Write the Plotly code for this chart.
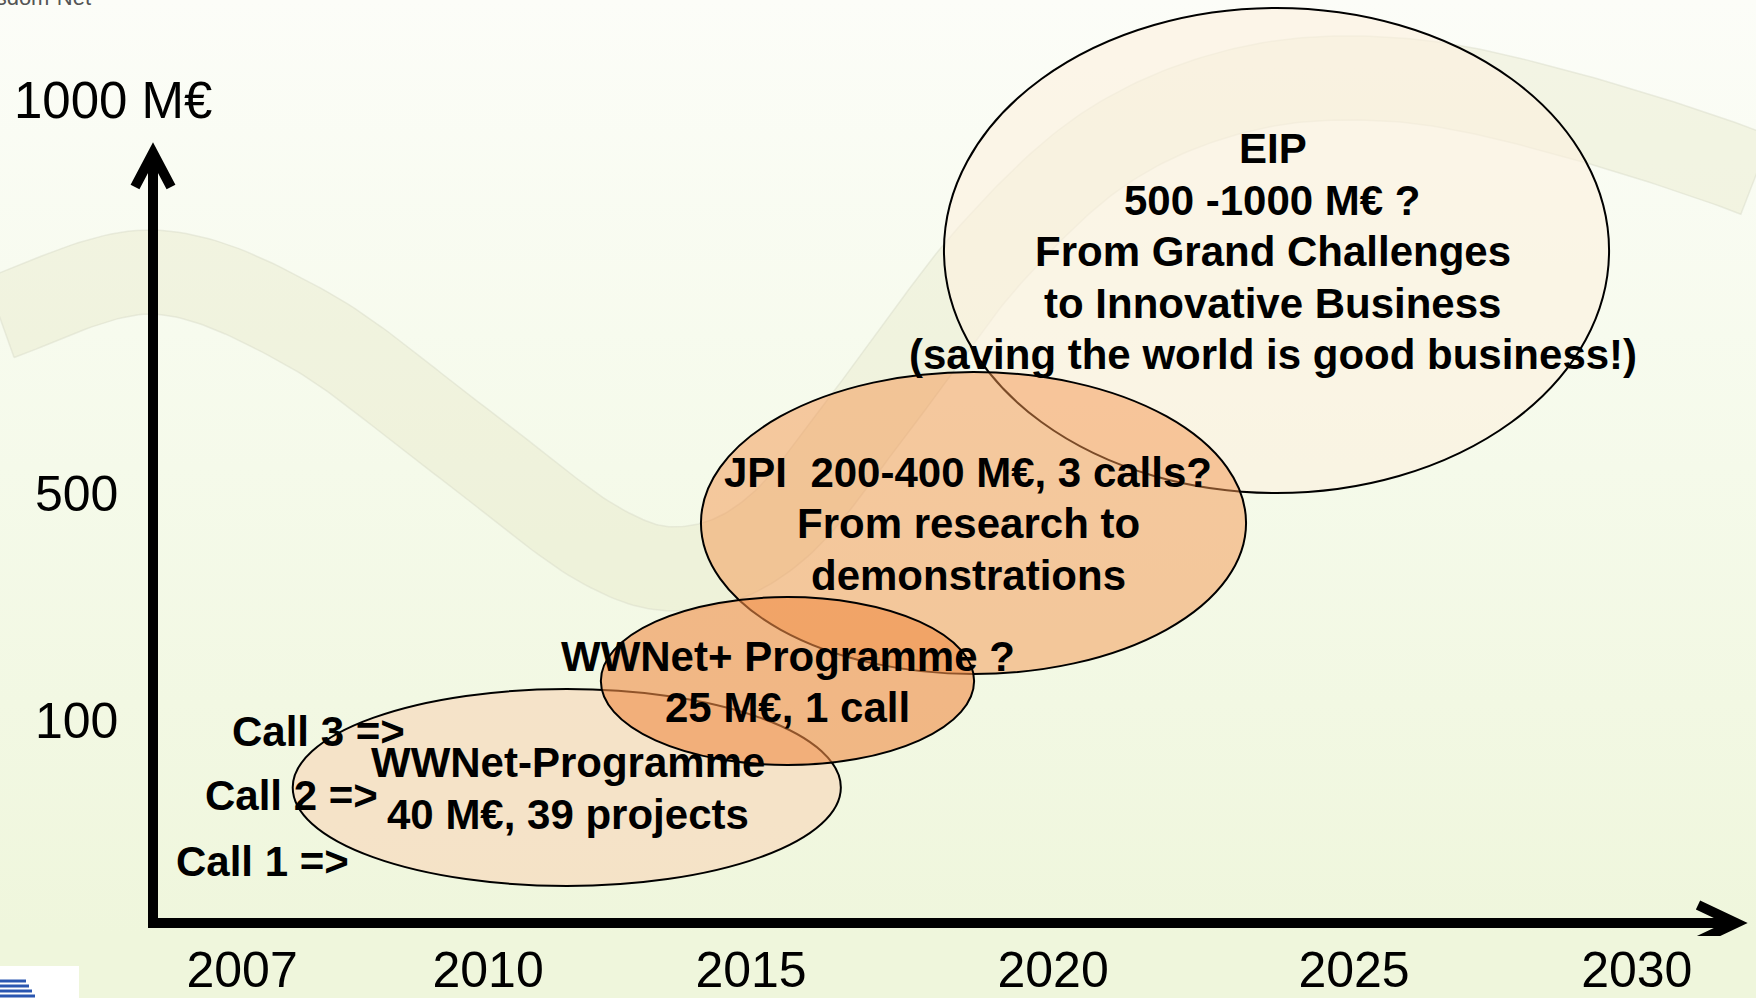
import numpy as np
import plotly.graph_objects as go

# ---------------- data ----------------
years = ["2007", "2010", "2015", "2020", "2025", "2030"]
budget_ticks = [100, 500]
budget_labels = ["100", "500"]
top_label = "1000 M€"

programmes = ["EIP", "WWNet-Programme", "JPI", "WWNet+ Programme"]
prog_start = [2018.20, 2007.40, 2014.17, 2012.51]   # year
prog_end = [2029.23, 2016.49, 2023.21, 2018.70]     # year
prog_low = [500.0, -192.5, 181.1, 20.7]             # M€ (slide scale)
prog_high = [1354.6, 154.6, 713.2, 316.7]           # M€ (slide scale)

prog_lines = [
    ["EIP", "500 -1000 M€ ?", "From Grand Challenges", "to Innovative Business",
     "(saving the world is good business!)"],
    ["WWNet-Programme", "40 M€, 39 projects"],
    ["JPI\u00a0 200-400 M€, 3 calls?", "From research to", "demonstrations"],
    ["WWNet+ Programme ?", "25 M€, 1 call"],
]
prog_text_x = [2023.65, 2011.97, 2018.60, 2015.61]
prog_text_y = [924.7, -21.0, 445.4, 167.0]

calls = ["Call 3 =>", "Call 2 =>", "Call 1 =>"]
calls_x = [2007.83, 2007.38, 2006.90]
calls_y = [80.6, -33.9, -150.2]

# ---------------- style / layout ----------------
W, H = 1756, 998
MB = 62
PH = H - MB
PXY = 60.3      # px per year
PXM = 0.5675    # px per M€
LINE_PX = 51.5


def X(px):
    return 2015 + (px - 751) / PXY


def Y(py):
    return 100 + (720 - py) / PXM


tick_pos = [2006.56, 2010.64, 2015.0, 2020.01, 2025.0, 2029.69]

fills = ["rgba(252,240,222,0.62)", "rgba(246,218,189,0.7)",
         "rgba(244,150,80,0.5)", "rgba(240,140,70,0.6)"]

FONT = "Liberation Sans, Arial, sans-serif"
TXT = 42

fig = go.Figure()

# background gradient (covers whole page incl. bottom margin)
x0, x1 = X(0), X(W)
y0, y1 = Y(PH), Y(0)
fig.add_trace(go.Scatter(
    x=[x0, x1, x1, x0, x0], y=[y0, y0, y1, y1, y0], mode="lines",
    fill="toself", line=dict(width=0),
    fillgradient=dict(type="vertical",
                      colorscale=[[0, "#eff6dc"], [0.5, "#f5faea"], [1, "#fcfdf8"]]),
    hoverinfo="skip", showlegend=False))

# decorative wave band
ctrl = np.array([(-60, 345), (0, 318), (153, 272), (306, 328), (459, 440), (600, 545),
                 (690, 568), (780, 525), (880, 400), (990, 255), (1110, 145), (1250, 88),
                 (1400, 80), (1560, 112), (1756, 175), (1860, 230)], dtype=float)


def catmull(pts, n=24):
    out = []
    for i in range(1, len(pts) - 2):
        p0, p1, p2, p3 = pts[i - 1], pts[i], pts[i + 1], pts[i + 2]
        for t in np.linspace(0, 1, n, endpoint=False):
            t2, t3 = t * t, t * t * t
            out.append(0.5 * ((2 * p1) + (-p0 + p2) * t + (2 * p0 - 5 * p1 + 4 * p2 - p3) * t2
                              + (-p0 + 3 * p1 - 3 * p2 + p3) * t3))
    out.append(pts[-2])
    return np.array(out)


c = catmull(ctrl)
tg = np.gradient(c, axis=0)
tg /= np.linalg.norm(tg, axis=1, keepdims=True)
nrm = np.stack([-tg[:, 1], tg[:, 0]], axis=1)
hw = 42
upper = c + nrm * hw
lower = c - nrm * hw
poly = np.vstack([upper, lower[::-1], upper[:1]])
fig.add_trace(go.Scatter(
    x=[X(p) for p in poly[:, 0]], y=[Y(p) for p in poly[:, 1]], mode="lines",
    fill="toself", fillcolor="rgba(226,228,190,0.32)",
    line=dict(width=1.5, color="rgba(215,218,200,0.45)"),
    hoverinfo="skip", showlegend=False))

shapes = []
for i in range(len(programmes)):
    shapes.append(dict(type="circle", xref="x", yref="y", layer="above",
                       x0=prog_start[i], x1=prog_end[i], y0=prog_low[i], y1=prog_high[i],
                       fillcolor=fills[i], line=dict(color="black", width=2)))

# axes arrows
AX = 153
AY = 923
shapes.append(dict(type="line", xref="x", yref="y", layer="above",
                   x0=X(AX), x1=X(AX), y0=Y(AY + 5), y1=Y(153),
                   line=dict(color="black", width=10)))
shapes.append(dict(type="line", xref="x", yref="y", layer="above",
                   x0=X(AX - 5), x1=X(1736), y0=Y(AY), y1=Y(AY),
                   line=dict(color="black", width=10)))
shapes.append(dict(type="path", xref="x", yref="y", layer="above",
                   path=f"M {X(135)},{Y(187)} L {X(AX)},{Y(153)} L {X(171)},{Y(187)}",
                   line=dict(color="black", width=10)))
shapes.append(dict(type="path", xref="x", yref="y", layer="above",
                   path=f"M {X(1698)},{Y(905)} L {X(1736)},{Y(AY)} L {X(1698)},{Y(941)}",
                   line=dict(color="black", width=10)))

# logo fragment bottom-left
shapes.append(dict(type="rect", xref="paper", yref="paper", layer="above",
                   x0=0, x1=79 / W, y0=(PH - 966) / PH, y1=(PH - 1000) / PH,
                   fillcolor="white", line=dict(width=0)))
for k, py in enumerate([981, 986, 991, 996]):
    shapes.append(dict(type="line", xref="paper", yref="paper", layer="above",
                       x0=0, x1=(26 + 3 * k) / W, y0=(PH - py) / PH, y1=(PH - py) / PH,
                       line=dict(color="#2a56b0", width=3)))

annotations = []
step = LINE_PX / PXM
for i in range(len(programmes)):
    lines = prog_lines[i]
    n = len(lines)
    for j, ln in enumerate(lines):
        yy = prog_text_y[i] + ((n - 1) / 2 - j) * step
        annotations.append(dict(x=prog_text_x[i], y=yy, xref="x", yref="y",
                                text="<b>" + ln + "</b>", showarrow=False,
                                xanchor="center", yanchor="middle",
                                font=dict(family=FONT, size=TXT, color="black")))
for i in range(len(calls)):
    annotations.append(dict(x=calls_x[i], y=calls_y[i], xref="x", yref="y",
                            text="<b>" + calls[i] + "</b>", showarrow=False,
                            xanchor="center", yanchor="middle",
                            font=dict(family=FONT, size=TXT, color="black")))
annotations.append(dict(x=X(113), y=Y(100), xref="x", yref="y", text=top_label,
                        showarrow=False, xanchor="center", yanchor="middle",
                        font=dict(family=FONT, size=51, color="black")))
annotations.append(dict(x=93 / W, y=(PH - 12) / PH, xref="paper", yref="paper",
                        text="Wisdom-Net", showarrow=False, xanchor="right", yanchor="bottom",
                        font=dict(family=FONT, size=22, color="#555555")))

fig.update_layout(
    width=W, height=H,
    margin=dict(l=0, r=0, t=0, b=MB, autoexpand=False),
    paper_bgcolor="#eff6dc", plot_bgcolor="#f5faea",
    showlegend=False,
    shapes=shapes, annotations=annotations,
    xaxis=dict(range=[x0, x1], tickvals=tick_pos, ticktext=years, ticks="",
               showgrid=False, zeroline=False, showline=False, fixedrange=True,
               automargin=False, ticklabelstandoff=0,
               tickfont=dict(family=FONT, size=50, color="black")),
    yaxis=dict(range=[y0, y1], tickvals=budget_ticks, ticktext=budget_labels, ticks="",
               showgrid=False, zeroline=False, showline=False, fixedrange=True,
               automargin=False,
               ticklabelposition="inside", ticklabelstandoff=32,
               tickfont=dict(family=FONT, size=50, color="black")),
)

fig.write_html("out.html", config={"displayModeBar": False},
               post_script="document.body.style.margin='0';document.body.style.overflow='hidden';")
